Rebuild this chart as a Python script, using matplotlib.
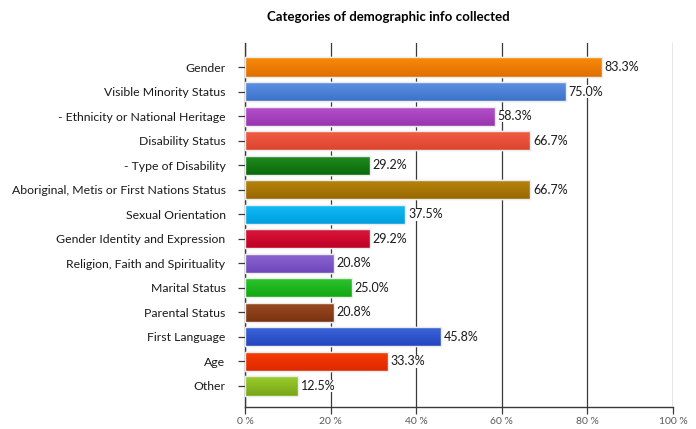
import numpy as np
import matplotlib
matplotlib.use("Agg")
import matplotlib.pyplot as plt
from matplotlib.colors import LinearSegmentedColormap

categories = ["Gender", "Visible Minority Status", "- Ethnicity or National Heritage",
              "Disability Status", "- Type of Disability",
              "Aboriginal, Metis or First Nations Status", "Sexual Orientation",
              "Gender Identity and Expression", "Religion, Faith and Spirituality",
              "Marital Status", "Parental Status", "First Language", "Age", "Other"]
values = [83.3, 75.0, 58.3, 66.7, 29.2, 66.7, 37.5, 29.2, 20.8, 25.0, 20.8, 45.8, 33.3, 12.5]
top_colors = ["#F88C08", "#5E92E4", "#B752CE", "#F45E47", "#218E21", "#B8860F",
              "#12BDF7", "#DA183C", "#8C68D2", "#2EC62E", "#9C4C24", "#3D66DA",
              "#F73E02", "#9CCD2C"]
bot_colors = ["#E06E00", "#3D72CA", "#9834AE", "#DB442E", "#0A690A", "#986800",
              "#009EDE", "#BE0024", "#6E46BA", "#13A613", "#7A3210", "#2446BE",
              "#DE2800", "#76A618"]
xticks = [0, 20, 40, 60, 80, 100]
xticklabels = ["0 %", "20 %", "40 %", "60 %", "80 %", "100 %"]
title = "Categories of demographic info collected"

plt.rcParams['font.family'] = ['Lato', 'DejaVu Sans']

fig = plt.figure(figsize=(6.96, 4.29), dpi=100)
ax = fig.add_axes([245/696, 22/429, 428/696, 364/429])

y = np.arange(len(categories))
h = 0.78
grad = np.linspace(0, 1, 64).reshape(-1, 1)
for yi, v, c1, c2 in zip(y, values, top_colors, bot_colors):
    bar = ax.barh(yi, v, height=h, color=c1, edgecolor="#f2f2f2", linewidth=1.0, zorder=3)[0]
    cmap = LinearSegmentedColormap.from_list("g", [c1, c2])
    im = ax.imshow(grad, cmap=cmap, aspect='auto', extent=[0, v, yi + h/2, yi - h/2],
                   zorder=3.5, interpolation='bilinear')
    im.set_clip_path(bar)
    ax.barh(yi, v, height=h, facecolor='none', edgecolor="#ececec", linewidth=1.0, zorder=4)
    ax.text(v + 0.6, yi, f"{v:.1f}%", va='center', ha='left', fontsize=9, color='#1a1a1a',
            zorder=5, bbox=dict(facecolor='white', edgecolor='none', pad=0.3))

ax.set_xlim(0, 100)
ax.set_ylim(13 + 21/24.5, -24/24.5)
ax.set_xticks(xticks)
ax.set_xticklabels(xticklabels, fontsize=7.5, color='#5a5a5a')
ax.set_yticks(y)
ax.set_yticklabels(categories, fontsize=8.8, color='#1a1a1a')
ax.xaxis.grid(True, color='#3a3a3a', linewidth=0.9, zorder=0)
ax.set_axisbelow(True)
for s in ['top', 'right']:
    ax.spines[s].set_visible(False)
for s in ['left', 'bottom']:
    ax.spines[s].set_color('#3a3a3a')
    ax.spines[s].set_linewidth(1.0)
ax.tick_params(axis='y', length=5, width=0.9, color='#3a3a3a', pad=9)
ax.tick_params(axis='x', length=5, width=0.9, color='#3a3a3a', pad=2)

fig.text(388/696, 1 - 17/429, title, ha='center', va='center', fontsize=9.5, fontweight='bold')

fig.savefig("out.png", dpi=100)
